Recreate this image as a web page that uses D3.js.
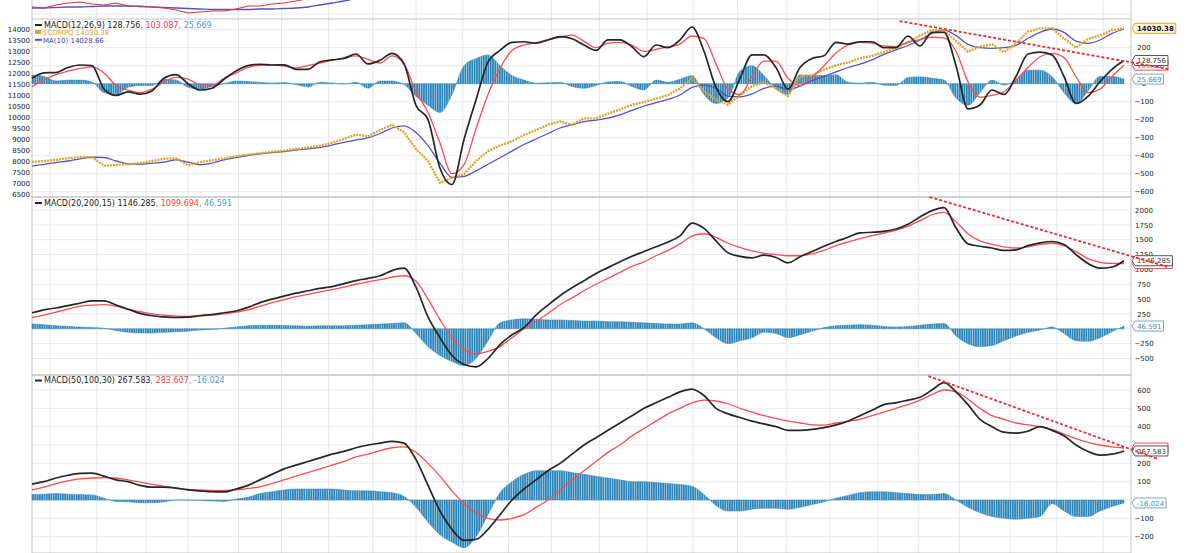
<!DOCTYPE html>
<html>
<head>
<meta charset="utf-8">
<script src="https://cdn.jsdelivr.net/npm/d3@7"></script>
<style>
  body { margin: 0; background: #fff; }
  svg { display: block; }
  text { font-family: "DejaVu Sans", Verdana, sans-serif; }
</style>
</head>
<body>
<svg id="svg"></svg>
<script>
// samples are evenly spaced trading-day buckets, index 0..91
// month boundaries, in sample index units
const monthTicks = [1.5, 5.4, 9.5, 13, 17.2, 20.8, 24.7, 28.4, 32, 35.9, 39.7, 43.3, 47.3, 51.25,
  55.1, 58.8, 62.9, 66.5, 70.5, 73.9, 77.3, 81.5, 85.4, 89.25];

// remnant of the panel above (clipped at top)
const stripRed = [11, 10, 13, 15, 16, 14, 13, 15, 12, 12, 11, 10, 8, 5, 6, 7, 7, 9, 12, 12, 14, 15, 17, 19.5];
const stripBlue = [10, 10, 10.5, 11, 11, 11.5, 12, 12, 12, 11.5, 11, 10.5, 10, 9.5, 9, 8.5, 8.5, 8.5, 8.5, 9,
  9, 9.5, 10, 11, 13, 15, 17, 19.5];

// $COMPQ close and MA(10)
const compq = [7955, 8000, 8050, 8130, 8170, 8180, 7780, 7830, 7850, 7900, 8000, 8100, 8120, 7800, 7950, 8030,
  8120, 8220, 8290, 8350, 8420, 8470, 8540, 8610, 8700, 8830, 9000, 9200, 9120, 9400, 9650, 9300,
  8550, 8000, 7000, 7250, 7400, 8000, 8450, 8700, 8900, 9180, 9400, 9650, 9800, 9640, 9940, 9940,
  10150, 10350, 10550, 10680, 10830, 11000, 11300, 11800, 11150, 10800, 10550, 11000, 11400, 11600, 11300, 10950,
  11850, 11900, 12150, 12350, 12480, 12670, 12780, 12950, 13150, 13400, 13700, 13950, 13950, 13450, 12970, 13200,
  13300, 12950, 13350, 13880, 14030, 14030, 13570, 13150, 13550, 13700, 13950, 14030];
const ma10 = [7770, 7850, 7930, 8000, 8100, 8170, 8160, 8000, 7870, 7850, 7900, 7950, 8050, 7950, 7830, 7900,
  8050, 8150, 8250, 8320, 8380, 8430, 8500, 8550, 8620, 8720, 8850, 8950, 9050, 9250, 9500, 9600,
  9300, 8700, 7900, 7250, 7300, 7550, 7850, 8150, 8450, 8750, 9000, 9250, 9500, 9650, 9790, 9860,
  9950, 10100, 10300, 10500, 10650, 10800, 11000, 11350, 11450, 11300, 10950, 10920, 11050, 11300, 11400, 11250,
  11400, 11650, 11850, 12050, 12250, 12400, 12600, 12850, 13050, 13250, 13500, 13800, 13950, 13700, 13300, 13150,
  13120, 13150, 13250, 13580, 13850, 14000, 13850, 13450, 13350, 13500, 13800, 14000];

// MACD(12,26,9)
const macd1 = [30, 60, 62, 90, 104, 100, -30, -65, -45, -58, -40, 30, 50, 0, -35, -25,
  25, 70, 100, 108, 104, 105, 80, 80, 122, 132, 140, 165, 110, 130, 168, 110,
  -120, -200, -470, -560, -310, -90, 120, 185, 230, 233, 225, 243, 261, 250, 215, 185,
  243, 243, 205, 150, 215, 200, 243, 315, 180, -20, -100, 30, 160, 160, 90, -30,
  90, 140, 155, 230, 220, 233, 233, 200, 200, 265, 210, 285, 285, 100, -140, -118,
  -35, -60, 40, 165, 175, 160, 40, -110, -70, 11, 80, 128.756];
const signal1 = [-17, 21, 50, 70, 85, 94, 60, -10, -35, -50, -30, 10, 35, 25, -5, -10,
  30, 60, 90, 102, 103, 98, 88, 100, 115, 130, 145, 155, 135, 115, 155, 110,
  -44, -160, -330, -500, -450, -250, -60, 85, 185, 215, 228, 245, 258, 270, 235, 200,
  225, 230, 215, 180, 190, 205, 220, 265, 250, 110, -30, -60, 40, 125, 125, 30,
  -10, 35, 100, 170, 215, 230, 225, 210, 206, 230, 245, 258, 255, 180, 10, -75,
  -65, -45, 20, 90, 150, 169, 145, 40, -50, -30, 40, 103.087];
const hist1 = [48, 40, 15, 20, 20, 10, -50, -60, -20, -10, -10, 25, 20, -20, -30, -15,
  0, 15, 12, 8, 3, 6, -5, -18, 8, 4, -2, 8, -25, 15, 15, -5,
  -70, -120, -160, -60, 100, 140, 160, 100, 45, 20, 3, 5, 8, -15, -25, -10,
  10, 12, -15, -35, 20, 8, 25, 45, -60, -110, -80, 70, 100, 45, -30, -60,
  50, 45, 45, 50, 8, 3, 8, -8, -10, 35, 38, 30, 20, -80, -120, -50,
  20, -8, 20, 75, 75, 40, -50, -110, -40, 40, 40, 25.669];

// MACD(20,200,15)
const macd2 = [270, 320, 350, 390, 430, 470, 470, 400, 330, 260, 220, 200, 190, 195, 220, 240,
  270, 300, 360, 440, 500, 550, 600, 640, 680, 710, 760, 810, 850, 893, 980, 1020,
  700, 200, -150, -450, -600, -640, -500, -265, -100, 20, 230, 400, 557, 690, 810, 930,
  1030, 1128, 1220, 1300, 1380, 1460, 1564, 1780, 1690, 1480, 1280, 1220, 1195, 1240, 1200, 1111,
  1212, 1300, 1390, 1470, 1540, 1614, 1625, 1640, 1680, 1760, 1883, 1990, 2040, 1700, 1430, 1390,
  1360, 1320, 1330, 1400, 1447, 1470, 1420, 1250, 1100, 1020, 1040, 1146.285];
const signal2 = [190, 230, 280, 330, 380, 400, 406, 380, 330, 290, 250, 230, 215, 210, 220, 230,
  250, 280, 320, 380, 440, 490, 540, 580, 620, 660, 700, 750, 790, 826, 870, 893,
  800, 500, 154, -150, -350, -420, -380, -300, -150, 0, 120, 260, 406, 520, 640, 750,
  850, 950, 1050, 1128, 1230, 1320, 1430, 1560, 1600, 1540, 1440, 1370, 1310, 1270, 1250, 1230,
  1230, 1260, 1320, 1400, 1460, 1520, 1570, 1610, 1660, 1730, 1820, 1920, 1960, 1800, 1600, 1480,
  1420, 1380, 1360, 1380, 1420, 1440, 1400, 1300, 1180, 1120, 1100, 1099.694];
const hist2 = [80, 70, 50, 40, 30, 20, 10, -30, -60, -70, -70, -60, -50, -40, -20, -10,
  10, 30, 50, 60, 60, 55, 50, 45, 50, 50, 50, 60, 70, 80, 90, 100,
  -80, -300, -450, -550, -620, -500, -200, 100, 150, 170, 160, 150, 150, 140, 130, 130,
  120, 120, 110, 100, 90, 80, 80, 100, 0, -150, -250, -200, -150, -60, -80, -150,
  -100, -40, 20, 50, 60, 70, 60, 40, 30, 40, 60, 80, 90, -120, -250, -300,
  -280, -200, -120, -60, -20, 30, -80, -200, -210, -150, -50, 46.591];

// MACD(50,100,30)
const macd3 = [87, 100, 120, 135, 145, 147, 130, 110, 100, 80, 70, 70, 65, 55, 50, 45,
  44, 60, 80, 110, 140, 170, 190, 210, 230, 250, 265, 285, 300, 310, 320, 310,
  220, 80, -60, -160, -220, -215, -160, -80, 0, 60, 110, 160, 200, 250, 300, 340,
  380, 420, 460, 500, 530, 560, 590, 605, 570, 500, 470, 450, 430, 415, 400, 380,
  380, 385, 395, 410, 430, 460, 490, 520, 530, 545, 560, 600, 640, 590, 520, 440,
  400, 370, 365, 375, 400, 380, 350, 300, 265, 245, 250, 267.583];
const signal3 = [55, 70, 90, 105, 115, 120, 122, 120, 110, 98, 85, 75, 65, 58, 55, 52,
  52, 55, 63, 72, 90, 110, 130, 150, 170, 190, 210, 235, 250, 270, 285, 290,
  260, 200, 130, 50, -20, -70, -100, -109, -100, -80, -40, 0, 55, 110, 160, 210,
  260, 300, 350, 390, 430, 470, 500, 530, 545, 540, 525, 500, 480, 460, 445, 430,
  420, 410, 408, 420, 430, 440, 460, 480, 500, 520, 545, 575, 600, 590, 550, 500,
  460, 440, 420, 410, 400, 385, 360, 335, 315, 300, 290, 283.607];
const hist3 = [30, 32, 35, 32, 30, 28, 10, -8, -10, -15, -15, -10, 0, 0, -3, -5,
  -8, 5, 15, 35, 45, 55, 60, 60, 60, 60, 55, 50, 50, 45, 40, 20,
  -40, -120, -190, -230, -260, -200, -80, 40, 100, 140, 160, 160, 160, 150, 140, 130,
  120, 110, 100, 100, 95, 90, 85, 75, 30, -30, -60, -60, -50, -45, -45, -50,
  -40, -25, -10, 10, 25, 40, 45, 45, 40, 35, 30, 30, 35, 0, -40, -70,
  -90, -100, -105, -100, -90, -20, -60, -90, -90, -60, -35, -16.024];

// hand-drawn trend lines: [sample index, indicator value]
const trend1 = [[72.3, 348], [94.7, 82]];
const trend2 = [[74.8, 2218], [94.6, 1044]];
const trend3 = [[74.7, 676], [93.8, 224]];

const priceTicks = d3.range(6500, 14001, 500);
const macd1Ticks = d3.range(-600, 301, 100);
const macd2Ticks = d3.range(-500, 2001, 250);
const macd3Ticks = d3.range(-200, 601, 100);

function sketch() {
  const svg = d3.select("#svg").attr("width", 1200).attr("height", 553);
  const left = 32, right = 1131;
  const N = compq.length;
  const last = N - 1;
  const x = d3.scaleLinear().domain([0, N - 1]).range([left, 1124]);

  const blackC = "#262626", redC = "#ff4d4d", histC = "#2f86b8", goldC = "#dfa32a", maC = "#5353c4";

  const defs = svg.append("defs");
  const pat = defs.append("pattern").attr("id", "bars")
    .attr("patternUnits", "userSpaceOnUse").attr("width", 2.3).attr("height", 10);
  pat.append("rect").attr("width", 2.3).attr("height", 10).attr("fill", "#a6cde4");
  pat.append("rect").attr("width", 1.6).attr("height", 10).attr("fill", histC);

  const panels = [
    { top: 19, bottom: 197, y: d3.scaleLinear().domain([-600, 200]).range([191.7, 47.7]), ticks: macd1Ticks,
      macd: macd1, sig: signal1, hist: hist1, trend: trend1 },
    { top: 197, bottom: 375, y: d3.scaleLinear().domain([-500, 2000]).range([358.5, 210]), ticks: macd2Ticks,
      macd: macd2, sig: signal2, hist: hist2, trend: trend2 },
    { top: 375, bottom: 553, y: d3.scaleLinear().domain([-200, 600]).range([536.7, 390]), ticks: macd3Ticks,
      macd: macd3, sig: signal3, hist: hist3, trend: trend3 }
  ];
  const yPrice = d3.scaleLinear().domain([6500, 14000]).range([194, 29]);
  const yStrip = d3.scaleLinear().domain([0, 18]).range([18, 0]);

  // y positions of the value flags, used to drop tick labels hidden under them
  panels[0].flags = [panels[0].y(macd1[last]), panels[0].y(signal1[last]), panels[0].y(hist1[last]), yPrice(compq[last])];
  panels[1].flags = [panels[1].y(macd2[last]), panels[1].y(signal2[last]), panels[1].y(hist2[last])];
  panels[2].flags = [panels[2].y(macd3[last]), panels[2].y(signal3[last]), panels[2].y(hist3[last])];

  // top strip (tail of the panel above)
  let gs = svg.append("g");
  gs.append("line").attr("x1", left).attr("x2", right).attr("y1", 14).attr("y2", 14).attr("stroke", "#ececec");
  gs.selectAll("line.v").data(monthTicks).enter().append("line")
    .attr("x1", d => x(d)).attr("x2", d => x(d)).attr("y1", 0).attr("y2", 19).attr("stroke", "#e8e8e8");
  gs.append("line").attr("x1", left).attr("x2", left).attr("y1", 0).attr("y2", 19).attr("stroke", "#c8c8c8");
  gs.append("line").attr("x1", right).attr("x2", right).attr("y1", 0).attr("y2", 19).attr("stroke", "#c8c8c8");
  gs.append("path").datum(stripBlue)
    .attr("d", d3.line().x((d, i) => x(i)).y(d => yStrip(d)).curve(d3.curveMonotoneX))
    .attr("fill", "none").attr("stroke", maC).attr("stroke-width", 1.3);
  gs.append("path").datum(stripRed)
    .attr("d", d3.line().x((d, i) => x(i)).y(d => yStrip(d)))
    .attr("fill", "none").attr("stroke", "#e8333a").attr("stroke-width", 1.2);

  panels.forEach((p, k) => {
    let g = svg.append("g");
    // grid
    g.selectAll("line.h").data(p.ticks.filter(t => p.y(t) > p.top + 2 && p.y(t) < p.bottom - 2)).enter()
      .append("line").attr("x1", left).attr("x2", right)
      .attr("y1", d => p.y(d)).attr("y2", d => p.y(d)).attr("stroke", "#ebebeb");
    g.selectAll("line.v").data(monthTicks).enter().append("line")
      .attr("x1", d => x(d)).attr("x2", d => x(d))
      .attr("y1", p.top).attr("y2", p.bottom).attr("stroke", "#e6e6e6");
    g.append("rect").attr("x", left).attr("y", p.top).attr("width", right - left).attr("height", p.bottom - p.top)
      .attr("fill", "none").attr("stroke", "#c4c4c4");

    // right axis
    let shown = p.ticks.filter(t => p.y(t) > p.top + 4 && p.y(t) < p.bottom &&
      p.flags.every(f => Math.abs(f - p.y(t)) > 4.5));
    let ax = g.append("g").attr("transform", `translate(${right},0)`)
      .call(d3.axisRight(p.y).tickValues(shown).tickFormat(d3.format("d"))
        .tickSize(0).tickSizeOuter(0).tickPadding(13));
    ax.select(".domain").remove();
    ax.selectAll("text").attr("text-anchor", "middle").attr("font-size", 7).attr("fill", "#222")
      .attr("font-family", "DejaVu Sans, sans-serif");

    // histogram
    g.append("path").datum(p.hist)
      .attr("d", d3.area().x((d, i) => x(i)).y0(p.y(0)).y1(d => p.y(d)).curve(d3.curveMonotoneX))
      .attr("fill", "url(#bars)").attr("stroke", histC).attr("stroke-width", 0.5);

    if (k === 0) {
      let ay = g.append("g").attr("transform", `translate(${left},0)`)
        .call(d3.axisLeft(yPrice).tickValues(priceTicks).tickFormat(d3.format("d"))
          .tickSize(0).tickSizeOuter(0).tickPadding(2));
      ay.select(".domain").remove();
      ay.selectAll("text").attr("font-size", 7).attr("fill", "#222").attr("font-family", "DejaVu Sans, sans-serif");
      g.append("path").datum(ma10)
        .attr("d", d3.line().x((d, i) => x(i)).y(d => yPrice(d)).curve(d3.curveMonotoneX))
        .attr("fill", "none").attr("stroke", maC).attr("stroke-width", 1.3);
      g.append("path").datum(compq)
        .attr("d", d3.line().x((d, i) => x(i)).y(d => yPrice(d)))
        .attr("fill", "none").attr("stroke", goldC).attr("stroke-width", 2.3).attr("stroke-dasharray", "2,1");
    }

    g.append("path").datum(p.sig)
      .attr("d", d3.line().x((d, i) => x(i)).y(d => p.y(d)).curve(d3.curveMonotoneX))
      .attr("fill", "none").attr("stroke", redC).attr("stroke-width", 1.3);
    g.append("path").datum(p.macd)
      .attr("d", d3.line().x((d, i) => x(i)).y(d => p.y(d)).curve(d3.curveMonotoneX))
      .attr("fill", "none").attr("stroke", blackC).attr("stroke-width", 1.7);
  });

  // value flags on the right axis
  function flag(yv, label, stroke, color, bold) {
    let fg = svg.append("g");
    let t = fg.append("text").attr("x", right + 6).attr("y", yv + 2.6).attr("font-size", 7)
      .attr("font-weight", bold ? "bold" : "normal").attr("fill", color).text(label);
    let w = t.node().getComputedTextLength() + 8;
    fg.insert("path", "text")
      .attr("d", `M${right + 1},${yv} L${right + 4},${yv - 5} L${right + w},${yv - 5} L${right + w},${yv + 5} L${right + 4},${yv + 5} Z`)
      .attr("fill", bold ? "#fff6df" : "#fff").attr("stroke", stroke).attr("stroke-width", 1);
  }
  flag(yPrice(compq[last]), "14030.38", "#e9a526", "#111", true);
  flag(panels[0].y(signal1[last]), "103.087", redC, redC);
  flag(panels[0].y(macd1[last]), "128.756", "#555", "#333");
  flag(panels[0].y(hist1[last]), "25.669", "#7aa6c4", "#4a8ab8");
  flag(panels[1].y(signal2[last]), "1099.694", redC, redC);
  flag(panels[1].y(macd2[last]), "1146.285", "#555", "#333");
  flag(panels[1].y(hist2[last]), "46.591", "#7aa6c4", "#4a8ab8");
  flag(panels[2].y(signal3[last]), "283.607", redC, redC);
  flag(panels[2].y(macd3[last]), "267.583", "#555", "#333");
  flag(panels[2].y(hist3[last]), "-16.024", "#7aa6c4", "#4a8ab8");

  // trend lines
  panels.forEach(p => {
    svg.append("path").datum(p.trend)
      .attr("d", d3.line().x(d => x(d[0])).y(d => p.y(d[1])))
      .attr("stroke", "#ee2a2a").attr("stroke-width", 1.8).attr("stroke-dasharray", "3,2").attr("fill", "none");
  });

  // legends
  function legend(yb, name, a, b, c) {
    let lg = svg.append("g");
    lg.append("line").attr("x1", 35).attr("x2", 42).attr("y1", yb - 2.5).attr("y2", yb - 2.5)
      .attr("stroke", blackC).attr("stroke-width", 2);
    let t = lg.append("text").attr("x", 44).attr("y", yb).attr("font-size", 8);
    t.append("tspan").attr("fill", "#222").text(`${name} ${a}`);
    t.append("tspan").attr("fill", "#ff3b3b").text(`, ${b}`);
    t.append("tspan").attr("fill", "#4aa0d0").text(`, ${c}`);
  }
  legend(27.5, "MACD(12,26,9)", "128.756", "103.087", "25.669");
  legend(205.5, "MACD(20,200,15)", "1146.285", "1099.694", "46.591");
  legend(383, "MACD(50,100,30)", "267.583", "283.607", "-16.024");

  svg.append("rect").attr("x", 35).attr("y", 30).attr("width", 6).attr("height", 4).attr("fill", goldC);
  svg.append("text").attr("x", 43).attr("y", 35.2).attr("font-size", 7).attr("fill", goldC).text("$COMPQ 14030.38");
  svg.append("line").attr("x1", 35).attr("x2", 42).attr("y1", 39.8).attr("y2", 39.8).attr("stroke", maC).attr("stroke-width", 2);
  svg.append("text").attr("x", 43).attr("y", 42.6).attr("font-size", 7).attr("fill", "#4040a8").text("MA(10) 14028.66");
}
sketch();
</script>
</body>
</html>
